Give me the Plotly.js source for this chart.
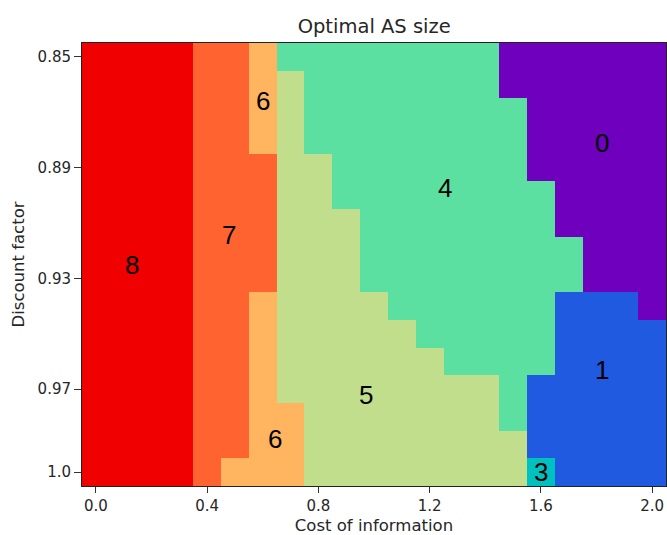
<!DOCTYPE html>
<html>
<head>
<meta charset="utf-8">
<script src="https://cdn.plot.ly/plotly-3.0.1.min.js"></script>
<style>
  html, body { margin: 0; padding: 0; background: #ffffff; }
  #chart { width: 667px; height: 535px; }
</style>
</head>
<body>
<div id="chart"></div>
<script>
// Cost of information (columns) and discount factor (rows)
const cost = [0.0, 0.1, 0.2, 0.3, 0.4, 0.5, 0.6, 0.7, 0.8, 0.9, 1.0,
              1.1, 1.2, 1.3, 1.4, 1.5, 1.6, 1.7, 1.8, 1.9, 2.0];
const discount = [0.85, 0.86, 0.87, 0.88, 0.89, 0.90, 0.91, 0.92,
                  0.93, 0.94, 0.95, 0.96, 0.97, 0.98, 0.99, 1.00];

// Optimal AS size for each (discount, cost) pair, one row per discount factor
const asSize = [
  [8,8,8,8,7,7,6,4,4,4,4,4,4,4,4,0,0,0,0,0,0],
  [8,8,8,8,7,7,6,5,4,4,4,4,4,4,4,0,0,0,0,0,0],
  [8,8,8,8,7,7,6,5,4,4,4,4,4,4,4,4,0,0,0,0,0],
  [8,8,8,8,7,7,6,5,4,4,4,4,4,4,4,4,0,0,0,0,0],
  [8,8,8,8,7,7,7,5,5,4,4,4,4,4,4,4,0,0,0,0,0],
  [8,8,8,8,7,7,7,5,5,4,4,4,4,4,4,4,4,0,0,0,0],
  [8,8,8,8,7,7,7,5,5,5,4,4,4,4,4,4,4,0,0,0,0],
  [8,8,8,8,7,7,7,5,5,5,4,4,4,4,4,4,4,4,0,0,0],
  [8,8,8,8,7,7,7,5,5,5,4,4,4,4,4,4,4,4,0,0,0],
  [8,8,8,8,7,7,6,5,5,5,5,4,4,4,4,4,4,1,1,1,0],
  [8,8,8,8,7,7,6,5,5,5,5,5,4,4,4,4,4,1,1,1,1],
  [8,8,8,8,7,7,6,5,5,5,5,5,5,4,4,4,4,1,1,1,1],
  [8,8,8,8,7,7,6,5,5,5,5,5,5,5,5,4,1,1,1,1,1],
  [8,8,8,8,7,7,6,6,5,5,5,5,5,5,5,4,1,1,1,1,1],
  [8,8,8,8,7,7,6,6,5,5,5,5,5,5,5,5,1,1,1,1,1],
  [8,8,8,8,7,6,6,6,5,5,5,5,5,5,5,5,3,1,1,1,1]
];

// Region labels: value and where it is written
const labelText = ["8", "7", "6", "6", "5", "4", "3", "1", "0"];
const labelCost = [0.13, 0.48, 0.60, 0.645, 0.97, 1.255, 1.60, 1.82, 1.82];
const labelDisc = [0.925, 0.9145, 0.866, 0.988, 0.972, 0.8975, 1.00, 0.963, 0.881];

// One colour per size 0..8 (rainbow)
const sizeColors = ["#6e00be", "#1f5ae0", "#1e9ee0", "#00c0c0", "#5ce0a2",
                    "#c0de8c", "#ffb45f", "#ff6430", "#f00000"];

const nLevels = sizeColors.length;
const colorscale = [];
sizeColors.forEach((c, k) => {
  colorscale.push([k / nLevels, c]);
  colorscale.push([(k + 1) / nLevels, c]);
});

const font = "DejaVu Sans, sans-serif";

const trace = {
  type: "heatmap",
  x: cost,
  y: discount,
  z: asSize,
  zmin: -0.5,
  zmax: nLevels - 0.5,
  colorscale: colorscale,
  showscale: false,
  hoverinfo: "x+y+z"
};

const annotations = labelText.map((t, i) => ({
  x: labelCost[i],
  y: labelDisc[i],
  xref: "x",
  yref: "y",
  text: t,
  showarrow: false,
  font: { family: "Liberation Sans, Arial, sans-serif", size: 26, color: "#000000" }
}));

const layout = {
  width: 667,
  height: 535,
  margin: { l: 82, r: 1, t: 43, b: 49 },
  paper_bgcolor: "#ffffff",
  plot_bgcolor: "#ffffff",
  font: { family: font, color: "#262626" },
  title: {
    text: "Optimal AS size",
    font: { family: font, size: 19.5, color: "#262626" },
    x: 0.561,
    xanchor: "center",
    y: 1 - 26 / 535,
    yanchor: "middle"
  },
  xaxis: {
    range: [-0.05, 2.05],
    tickvals: [0.0, 0.4, 0.8, 1.2, 1.6, 2.0],
    ticktext: ["0.0", "0.4", "0.8", "1.2", "1.6", "2.0"],
    ticks: "outside",
    ticklen: 6,
    tickcolor: "#333333",
    tickfont: { family: font, size: 15, color: "#262626" },
    showline: true,
    linecolor: "#222222",
    linewidth: 1,
    mirror: true,
    showgrid: false,
    zeroline: false,
    title: { text: "Cost of information", font: { family: font, size: 16.5, color: "#262626" }, standoff: 6 }
  },
  yaxis: {
    range: [1.005, 0.845],
    tickvals: [0.85, 0.89, 0.93, 0.97, 1.0],
    ticktext: ["0.85", "0.89", "0.93", "0.97", "1.0"],
    ticks: "outside",
    ticklen: 7,
    tickcolor: "#333333",
    tickfont: { family: font, size: 15, color: "#262626" },
    showline: true,
    linecolor: "#222222",
    linewidth: 1,
    mirror: true,
    showgrid: false,
    zeroline: false,
    title: { text: "Discount factor", font: { family: font, size: 16.5, color: "#262626" }, standoff: 8 }
  },
  annotations: annotations
};

Plotly.newPlot("chart", [trace], layout, { displayModeBar: false, staticPlot: true });
</script>
</body>
</html>
